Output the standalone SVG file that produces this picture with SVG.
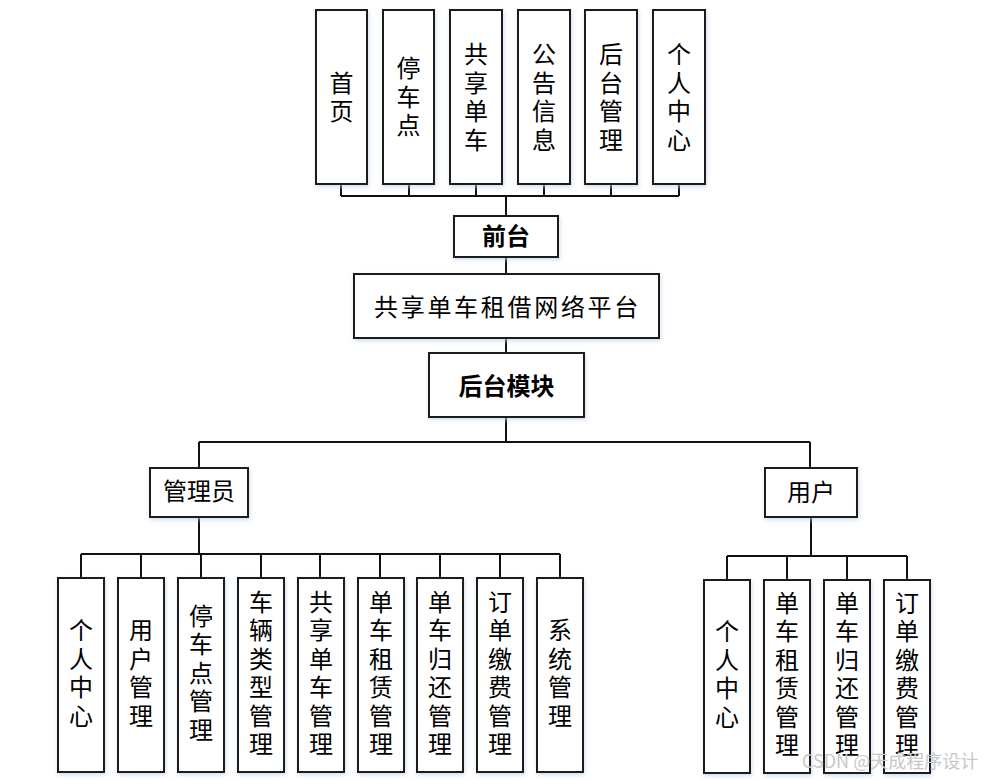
<svg xmlns="http://www.w3.org/2000/svg" width="1008" height="780" viewBox="0 0 1008 780">
<defs>
<filter id="glow" x="-20%" y="-20%" width="140%" height="140%">
<feDropShadow dx="1" dy="2" stdDeviation="2" flood-color="#b8cfe8" flood-opacity="0.7"/>
</filter>
</defs>
<style>
.box{fill:#fff;stroke:#1a1a1a;stroke-width:2;filter:url(#glow)}
.t{font-family:"Noto Sans CJK SC","Noto Sans",sans-serif;font-size:24px;fill:#000;text-anchor:middle}
.v{writing-mode:vertical-rl;text-orientation:upright;letter-spacing:4.5px}
.b{font-weight:bold}
.ln{fill:none;stroke:#111;stroke-width:2}
.wm{font-family:"Noto Sans CJK SC","Liberation Sans",sans-serif;font-size:18px;fill:#c8c8c8}
</style>
<rect width="1008" height="780" fill="#fff"/>
<g id="connectors">
<path class="ln" d="M341 184V196M409 184V196M476 184V196M544 184V196M611 184V196M679 184V196M341 196H679M506 196V216"/>
<path class="ln" d="M506 257V274M506 338V353M506 417V442M199 442H810M199 442V468M810 442V468"/>
<path class="ln" d="M199 517V554M81 554H560M81 554V578M141 554V578M201 554V578M261 554V578M320 554V578M380 554V578M440 554V578M500 554V578M560 554V578"/>
<path class="ln" d="M811 517V556M727 556H907M727 556V580M787 556V580M847 556V580M907 556V580"/>
</g>
<g id="n-shouye"><rect class="box" x="316" y="10" width="51" height="174"/><text class="t v" x="341.5" y="99">首页</text></g>
<g id="n-tingchedian"><rect class="box" x="383" y="10" width="51" height="174"/><text class="t v" x="408.5" y="99">停车点</text></g>
<g id="n-gongxiang"><rect class="box" x="450" y="10" width="52" height="174"/><text class="t v" x="476" y="99">共享单车</text></g>
<g id="n-gonggao"><rect class="box" x="518" y="10" width="52" height="174"/><text class="t v" x="544" y="99">公告信息</text></g>
<g id="n-houtaiguanli"><rect class="box" x="585" y="10" width="52" height="174"/><text class="t v" x="611" y="99">后台管理</text></g>
<g id="n-gerenzhongxin-top"><rect class="box" x="653" y="10" width="52" height="174"/><text class="t v" x="679" y="99">个人中心</text></g>
<g id="n-qiantai"><rect class="box" x="454" y="216" width="104" height="41"/><text class="t b" x="506" y="245">前台</text></g>
<g id="n-platform"><rect class="box" x="354" y="274" width="305" height="64"/><text class="t" x="507.5" y="316" letter-spacing="2.7">共享单车租借网络平台</text></g>
<g id="n-houtaimokuai"><rect class="box" x="429" y="353" width="155" height="64"/><text class="t b" x="506.5" y="395">后台模块</text></g>
<g id="n-admin"><rect class="box" x="150" y="468" width="98" height="49"/><text class="t" x="199" y="500">管理员</text></g>
<g id="n-user"><rect class="box" x="765" y="468" width="92" height="49"/><text class="t" x="811" y="501">用户</text></g>
<g id="a-geren"><rect class="box" x="58" y="578" width="46" height="194"/><text class="t v" x="81" y="675">个人中心</text></g>
<g id="a-yonghu"><rect class="box" x="118" y="578" width="46" height="194"/><text class="t v" x="141" y="675">用户管理</text></g>
<g id="a-tingchedian"><rect class="box" x="178" y="578" width="46" height="194"/><text class="t v" x="201" y="675">停车点管理</text></g>
<g id="a-cheliang"><rect class="box" x="238" y="578" width="46" height="194"/><text class="t v" x="261" y="675">车辆类型管理</text></g>
<g id="a-gongxiang"><rect class="box" x="298" y="578" width="46" height="194"/><text class="t v" x="321" y="675">共享单车管理</text></g>
<g id="a-zulin"><rect class="box" x="358" y="578" width="46" height="194"/><text class="t v" x="381" y="675">单车租赁管理</text></g>
<g id="a-guihuan"><rect class="box" x="417" y="578" width="46" height="194"/><text class="t v" x="440" y="675">单车归还管理</text></g>
<g id="a-jiaofei"><rect class="box" x="477" y="578" width="46" height="194"/><text class="t v" x="500" y="675">订单缴费管理</text></g>
<g id="a-xitong"><rect class="box" x="537" y="578" width="46" height="194"/><text class="t v" x="560" y="675">系统管理</text></g>
<g id="u-geren"><rect class="box" x="704" y="580" width="46" height="193"/><text class="t v" x="727" y="676">个人中心</text></g>
<g id="u-zulin"><rect class="box" x="764" y="580" width="46" height="193"/><text class="t v" x="787" y="676">单车租赁管理</text></g>
<g id="u-guihuan"><rect class="box" x="824" y="580" width="46" height="193"/><text class="t v" x="847" y="676">单车归还管理</text></g>
<g id="u-jiaofei"><rect class="box" x="884" y="580" width="46" height="193"/><text class="t v" x="907" y="676">订单缴费管理</text></g>
<text class="wm" x="802" y="768">CSDN @天成程序设计</text>
</svg>
